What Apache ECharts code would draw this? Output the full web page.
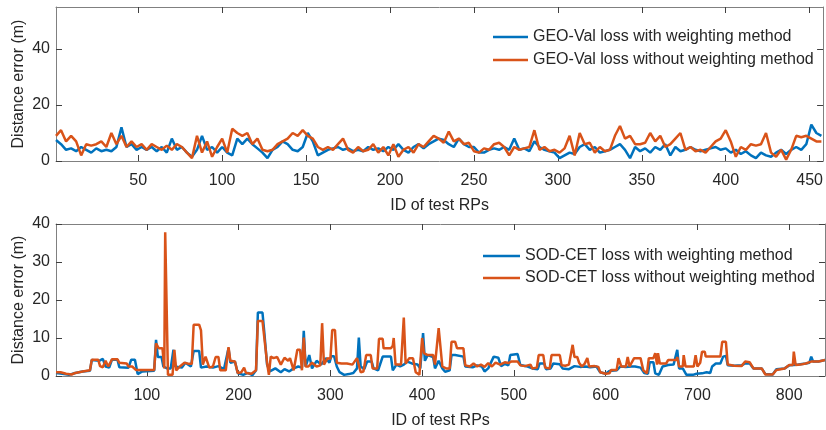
<!DOCTYPE html>
<html>
<head>
<meta charset="utf-8">
<script src="https://cdn.jsdelivr.net/npm/echarts@6/dist/echarts.min.js"></script>
<style>
  html, body { margin: 0; padding: 0; background: #fff; }
  #main { width: 826px; height: 430px; }
</style>
</head>
<body>
<div id="main"></div>
<script>
// top panel: GEO-Val loss, [test RP id, distance error (m)]
var geoWith = [[1,7.5],[4,6],[7,4],[10,4.5],[13,3.5],[16,5],[19,4],[22,3],[25,4.5],[28,3.5],[31,4],[34,3.5],[37,5],[40,12],[43,5],[46,6],[49,4],[52,5],[55,4],[58,5],[61,3.5],[64,5],[67,3],[70,8],[73,4],[76,5],[79,3],[82,1.5],[85,4],[88,9],[91,4],[94,5],[97,3],[100,5],[103,3],[106,2],[109,8],[112,6],[115,8],[118,6],[121,4.5],[124,3],[127,1],[130,4],[133,5],[136,7],[139,6],[142,4],[145,3.5],[148,5],[151,10],[154,7],[157,2],[160,3],[163,4],[166,4.5],[169,5],[172,4],[175,4.5],[178,3.5],[181,4],[184,3.5],[187,5],[190,4],[193,4.5],[196,3.5],[199,5],[202,4],[205,6],[208,4],[211,3],[214,5],[217,6],[220,4.5],[223,6],[226,7],[229,8],[232,7.5],[235,6],[238,5],[241,8],[244,6],[247,5],[250,5],[253,3],[256,3],[259,4],[262,4.5],[265,4],[268,5],[271,4],[274,8],[277,4],[280,4.5],[283,3.5],[286,7],[289,5],[292,4],[295,3.5],[298,3],[301,1],[304,2],[307,3],[310,2.5],[313,5],[316,6],[319,4],[322,5],[325,3],[328,3.5],[331,4],[334,5],[337,6],[340,4],[343,1],[346,5],[349,3.5],[352,4.5],[355,3],[358,5],[361,4],[364,6],[367,2],[370,5],[373,3.5],[376,4],[379,5],[382,4],[385,3.5],[388,4],[391,4.5],[394,5],[397,4],[400,4.5],[403,3],[406,4],[409,2.5],[412,3.5],[415,2],[418,1],[421,3],[424,2],[427,1.5],[430,3],[433,4],[436,2.5],[439,4],[442,5],[445,4],[448,6],[451,13],[454,10],[457,9]];
var geoWithout = [[1,9],[4,11],[7,7],[10,9],[13,7],[16,2],[19,6],[22,5.5],[25,6],[28,7],[31,5],[34,10],[37,6],[40,9],[43,5],[46,7],[49,5],[52,6],[55,4],[58,6],[61,5],[64,4],[67,5.5],[70,4],[73,6],[76,5],[79,3],[82,1],[85,9],[88,3],[91,7],[94,1.5],[97,5],[100,8],[103,3],[106,11.5],[109,10],[112,9],[115,10],[118,6],[121,8],[124,4],[127,3.5],[130,4],[133,6],[136,7],[139,8],[142,10],[145,9],[148,11],[151,9],[154,8],[157,5],[160,4],[163,5],[166,4],[169,6],[172,8],[175,4],[178,3],[181,5],[184,3.5],[187,4],[190,6],[193,3],[196,5],[199,2],[202,6],[205,1.5],[208,4],[211,5],[214,3],[217,6],[220,5],[223,7],[226,9],[229,8],[232,6.5],[235,10.5],[238,7],[241,8],[244,6],[247,6.5],[250,3.5],[253,3],[256,4.5],[259,4],[262,6],[265,6.5],[268,5],[271,2],[274,5],[277,4],[280,4.5],[283,5],[286,11],[289,4],[292,5],[295,3.5],[298,4],[301,3],[304,4.5],[307,9],[310,2],[313,10],[316,6],[319,6.5],[322,3],[325,5],[328,3.5],[331,4],[334,9],[337,12.5],[340,8],[343,9],[346,6],[349,6],[352,6.5],[355,10],[358,7],[361,9],[364,5],[367,6],[370,8],[373,10],[376,4],[379,5],[382,3.5],[385,4],[388,3],[391,5],[394,7],[397,8],[400,11],[403,7],[406,1.5],[409,5],[412,4],[415,6],[418,5.5],[421,6],[424,10],[427,3],[430,1.5],[433,4],[436,0.5],[439,4],[442,9],[445,8.5],[448,9],[451,8],[454,7],[457,7]];

// bottom panel: SOD-CET loss
var sodWith = [[1,0.8],[8,0.6],[15,0.3],[22,0.8],[30,1.2],[38,1.4],[40,4.2],[48,4.0],[52,4.5],[55,2.5],[59,2.2],[62,4.3],[68,4.3],[70,2.3],[80,2.2],[83,4.3],[87,4.3],[90,0.5],[95,1.2],[108,1.4],[110,9.5],[112,5],[116,5],[118,2.5],[122,2.0],[126,2.0],[129,6.9],[131,2.5],[138,2.2],[142,3.5],[148,2.5],[151,6.6],[157,6.6],[159,2.2],[165,2.5],[172,2.2],[178,2.6],[184,1.8],[189,7.3],[191,3.5],[196,3.8],[199,0.8],[205,0.3],[210,0.8],[215,0.2],[219,1.5],[221,16.7],[226,16.7],[228,11.5],[231,3],[234,1.2],[240,2],[246,1.0],[250,1.8],[255,1.2],[260,2.0],[265,2.5],[269,2.2],[271,11.9],[273,2.5],[277,5.5],[280,2],[285,4],[290,3],[295,4.7],[299,3.5],[301,5.2],[304,5.2],[307,2.5],[310,1],[315,0.3],[320,0.5],[325,0.8],[329,2],[331,10.1],[333,2.5],[337,1.8],[340,3.8],[345,3.8],[347,2],[352,1.5],[357,5.1],[366,5.1],[368,1.5],[372,3],[376,2.5],[380,3],[384,3.8],[390,3.2],[395,3],[398,2],[401,11.3],[403,4],[406,5.5],[412,5],[414,2],[418,4],[422,2],[425,1.1],[430,1.5],[432,5.5],[436,5.5],[438,5.1],[445,5.1],[447,2.5],[455,2.3],[460,2.8],[465,2.5],[468,1.2],[472,2],[478,5.1],[483,4.8],[486,2.6],[490,3.2],[494,2.8],[496,5.5],[504,5.8],[507,2.9],[515,2.5],[520,2.0],[526,1.8],[528,3.3],[533,3.3],[535,1.8],[540,2],[543,3.3],[550,3.1],[553,2.0],[560,1.8],[566,2.6],[572,2.4],[578,2.5],[583,2.3],[590,2.5],[594,1.0],[600,0.6],[604,1.3],[612,1.5],[616,2.5],[622,2.4],[628,2.5],[632,2.5],[638,2.2],[642,0.8],[646,0.6],[648,3.6],[652,3.6],[654,0.7],[658,0.3],[662,2.5],[668,2.9],[674,3.0],[678,6.9],[680,2.0],[684,2.0],[688,0.3],[695,0.3],[699,0.6],[705,0.7],[710,1.0],[714,0.8],[716,2.5],[720,3.3],[725,3.3],[728,5.1],[731,5.3],[733,2.8],[740,2.7],[748,2.8],[752,3.3],[757,3.3],[761,2.0],[770,2.0],[774,0.5],[782,0.4],[786,1.8],[795,2.0],[800,2.8],[805,2.9],[810,3.0],[818,3.3],[822,3.5],[824,5.1],[826,3.8],[832,3.8],[839,4.2]];
var sodWithout = [[1,1.0],[6,1.0],[12,0.6],[18,0.4],[22,0.8],[30,1.2],[38,1.5],[40,4.3],[47,4.3],[49,2.6],[52,2.3],[55,4],[58,2.5],[62,4.4],[68,4.4],[70,3.5],[78,3.3],[80,2.5],[84,2.5],[88,1.6],[96,1.6],[108,1.6],[110,8.6],[113,7.3],[117,7.3],[119,2],[120,37.8],[122,37.8],[123,0.3],[128,0.3],[130,6.9],[132,1.5],[136,2.5],[141,3.5],[146,3.2],[149,3.2],[151,13.5],[157,13.5],[159,12],[161,3],[164,5.1],[166,5.1],[168,2.2],[172,2.5],[175,5],[178,5],[180,1.5],[186,1.5],[189,7.6],[191,4],[196,3.8],[199,0.8],[203,1.0],[206,2.2],[208,0.8],[214,0.6],[219,1.5],[221,14.5],[226,14.5],[228,14.2],[231,3.5],[233,0.3],[235,5.1],[238,4.7],[242,5],[246,3],[250,4.8],[254,4],[256,4.7],[260,1.5],[264,6.9],[267,6.9],[269,1.5],[271,10.1],[273,2.5],[276,2.5],[280,3.5],[285,2.5],[289,2.8],[291,13.9],[293,3],[297,4.7],[300,4.5],[302,12.1],[305,12.1],[307,3.5],[312,3.3],[318,3.3],[324,3.0],[329,4.7],[331,4.7],[333,1.0],[336,1.2],[339,5.5],[344,5.5],[346,2.0],[351,2.0],[353,9.8],[357,9.8],[358,7.3],[366,7.3],[368,8],[369,10],[371,3],[377,3],[380,15.4],[382,3.3],[386,4.7],[390,4.7],[393,1.0],[397,0.3],[400,10],[402,6],[406,5.5],[412,5.5],[414,3],[418,12.6],[420,12.6],[422,2.5],[426,2],[430,2],[432,9],[436,9],[438,7.3],[445,7.3],[447,2.8],[452,2.5],[456,3.3],[460,2.5],[464,3.0],[468,2.4],[472,3.4],[476,2.5],[480,3.5],[485,3.0],[490,3.6],[494,3.4],[497,3.8],[504,3.8],[507,2.8],[512,2.6],[518,3],[520,2.0],[525,2.2],[527,5.5],[532,5.5],[534,2.2],[539,2.0],[541,5.5],[550,5.5],[552,2.8],[556,2.7],[560,3.0],[564,8.2],[566,5.0],[569,5.0],[571,3.5],[574,2.5],[577,3.2],[580,4.7],[582,2.5],[588,2.6],[592,2.4],[594,1.0],[600,0.6],[604,0.7],[606,1.6],[612,1.6],[614,4.7],[617,2.5],[622,2.5],[624,5],[626,2.5],[631,4.7],[638,4.7],[641,1.5],[645,0.7],[647,4.7],[652,4.7],[654,6],[656,3],[657,6],[659,3.3],[666,3.3],[668,4.2],[677,4.2],[678,5],[680,2.5],[684,2.5],[685,5.5],[687,2.5],[696,2.5],[698,5.5],[700,2.5],[703,3.5],[705,6.4],[708,6.4],[709,5.1],[718,5.1],[721,5.1],[725,5.1],[727,9],[731,9],[733,3],[740,2.7],[748,2.6],[752,3.8],[757,3.6],[761,2.0],[770,2.0],[774,0.4],[782,0.4],[786,1.6],[795,2.0],[800,2.9],[804,2.9],[805,6.4],[807,2.9],[812,3.0],[818,3.3],[824,3.8],[832,3.8],[839,4.2]];

var topXTicks = [50, 100, 150, 200, 250, 300, 350, 400, 450];
var bottomXTicks = [100, 200, 300, 400, 500, 600, 700, 800];
var topYTicks = [0, 20, 40];
var bottomYTicks = [0, 10, 20, 30, 40];

var names = [
  'GEO-Val loss with weighting method', 'GEO-Val loss without weighting method',
  'SOD-CET loss with weighting method', 'SOD-CET loss without weighting method'
];

var FONT = '"Liberation Sans", Arial, Helvetica, sans-serif';
var TEXT = '#262626';
var BOX = '#808080';

function xPair(g, max, ticks, gap) {
  return [
    {
      type: 'value', gridIndex: g, min: 1, max: max, position: 'bottom',
      name: 'ID of test RPs', nameLocation: 'middle', nameGap: gap, nameMoveOverlap: false,
      nameTextStyle: { fontSize: 16, color: TEXT, fontFamily: FONT },
      axisLine: { show: true, onZero: false, lineStyle: { color: BOX, width: 1 } },
      axisTick: { show: true, inside: true, length: 6, customValues: ticks, lineStyle: { color: '#404040' } },
      axisLabel: { customValues: ticks, margin: 12, fontSize: 16, color: TEXT, fontFamily: FONT },
      splitLine: { show: false }
    },
    {
      type: 'value', gridIndex: g, min: 1, max: max, position: 'top',
      axisLine: { show: true, onZero: false, lineStyle: { color: BOX, width: 1 } },
      axisTick: { show: true, inside: true, length: 6, customValues: ticks, lineStyle: { color: '#404040' } },
      axisLabel: { show: false },
      splitLine: { show: false }
    }
  ];
}

function yPair(g, max, ticks) {
  return [
    {
      type: 'value', gridIndex: g, min: 0, max: max, position: 'left',
      name: 'Distance error (m)', nameLocation: 'middle', nameGap: 29, nameMoveOverlap: false,
      nameTextStyle: { fontSize: 16, color: TEXT, fontFamily: FONT },
      axisLine: { show: true, onZero: false, lineStyle: { color: BOX, width: 1 } },
      axisTick: { show: true, inside: true, length: 6, customValues: ticks, lineStyle: { color: '#404040' } },
      axisLabel: { customValues: ticks, margin: 6, fontSize: 16, color: TEXT, fontFamily: FONT },
      splitLine: { show: false }
    },
    {
      type: 'value', gridIndex: g, min: 0, max: max, position: 'right',
      axisLine: { show: true, onZero: false, lineStyle: { color: BOX, width: 1 } },
      axisTick: { show: true, inside: true, length: 6, customValues: ticks, lineStyle: { color: '#404040' } },
      axisLabel: { show: false },
      splitLine: { show: false }
    }
  ];
}

function line(name, data, color, xi, yi) {
  return {
    name: name, type: 'line', data: data, xAxisIndex: xi, yAxisIndex: yi,
    symbol: 'none', lineStyle: { color: color, width: 2.5 }, itemStyle: { color: color }
  };
}

var myChart = echarts.init(document.getElementById('main'));
var option = {
  animation: false,
  textStyle: { fontFamily: FONT },
  grid: [
    { left: 56, right: 1, top: 7, height: 154 },
    { left: 56, right: 1, top: 224, height: 152 }
  ],
  xAxis: xPair(0, 458, topXTicks, 37).concat(xPair(1, 839, bottomXTicks, 37)),
  yAxis: yPair(0, 55, topYTicks).concat(yPair(1, 40, bottomYTicks)),
  legend: [
    {
      data: [names[0], names[1]], orient: 'vertical', left: 493, top: 28, padding: 0,
      icon: 'rect', itemWidth: 35, itemHeight: 2.5, itemGap: 5,
      textStyle: { fontSize: 16, lineHeight: 18, color: TEXT, fontFamily: FONT }
    },
    {
      data: [names[2], names[3]], orient: 'vertical', left: 483, top: 247, padding: 0,
      icon: 'rect', itemWidth: 37, itemHeight: 2.5, itemGap: 4,
      textStyle: { fontSize: 16, lineHeight: 18, color: TEXT, fontFamily: FONT }
    }
  ],
  series: [
    line(names[0], geoWith, '#0072BD', 0, 0),
    line(names[1], geoWithout, '#D95319', 0, 0),
    line(names[2], sodWith, '#0072BD', 2, 2),
    line(names[3], sodWithout, '#D95319', 2, 2)
  ]
};
myChart.setOption(option);
</script>
</body>
</html>
